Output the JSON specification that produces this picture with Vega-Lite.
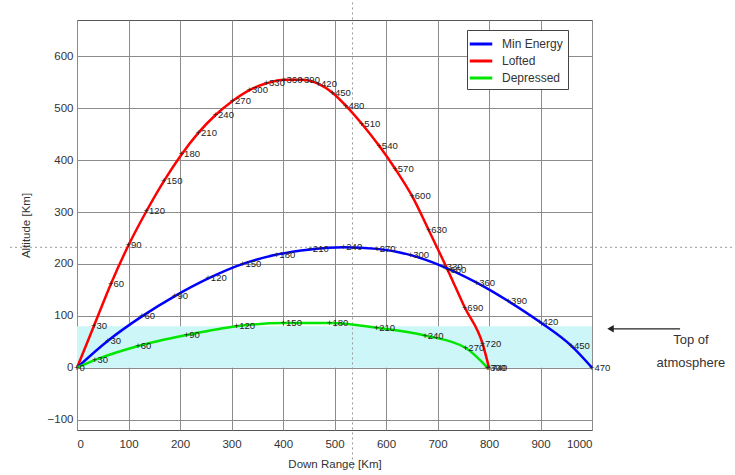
{
  "$schema": "https://vega.github.io/schema/vega-lite/v6.json",
  "width": 515,
  "height": 410,
  "autosize": {"type": "none"},
  "padding": {"left": 77, "top": 20, "right": 143, "bottom": 45},
  "background": "white",
  "config": {
    "view": {"stroke": "#555", "strokeWidth": 1},
    "font": "Liberation Sans",
    "axis": {
      "domain": false,
      "ticks": false,
      "grid": true,
      "gridColor": "#8c8c8c",
      "gridWidth": 1,
      "gridOpacity": 1,
      "labelFontSize": 11.5,
      "labelColor": "#333",
      "labelFont": "Liberation Sans",
      "titleFont": "Liberation Sans",
      "titleFontSize": 11.5,
      "titleFontWeight": "normal",
      "titleColor": "#333"
    }
  },
  "datasets": {
    "traj": [
      {"s": "Lofted", "t": 0, "x": 0, "y": 0, "lab": ""},
      {"s": "Lofted", "t": 30, "x": 33, "y": 81, "lab": "+30"},
      {"s": "Lofted", "t": 60, "x": 66, "y": 162, "lab": "+60"},
      {"s": "Lofted", "t": 90, "x": 100, "y": 236, "lab": "+90"},
      {"s": "Lofted", "t": 120, "x": 135, "y": 302, "lab": "+120"},
      {"s": "Lofted", "t": 150, "x": 169, "y": 360, "lab": "+150"},
      {"s": "Lofted", "t": 180, "x": 203, "y": 411, "lab": "+180"},
      {"s": "Lofted", "t": 210, "x": 236, "y": 453, "lab": "+210"},
      {"s": "Lofted", "t": 240, "x": 269, "y": 487, "lab": "+240"},
      {"s": "Lofted", "t": 270, "x": 302, "y": 514, "lab": "+270"},
      {"s": "Lofted", "t": 300, "x": 335, "y": 535, "lab": "+300"},
      {"s": "Lofted", "t": 330, "x": 368, "y": 548, "lab": "+330"},
      {"s": "Lofted", "t": 360, "x": 402, "y": 555, "lab": "+360"},
      {"s": "Lofted", "t": 390, "x": 436, "y": 555, "lab": "+390"},
      {"s": "Lofted", "t": 420, "x": 469, "y": 547, "lab": "+420"},
      {"s": "Lofted", "t": 450, "x": 496, "y": 530, "lab": "+450"},
      {"s": "Lofted", "t": 480, "x": 522, "y": 505, "lab": "+480"},
      {"s": "Lofted", "t": 510, "x": 553, "y": 470, "lab": "+510"},
      {"s": "Lofted", "t": 540, "x": 587, "y": 427, "lab": "+540"},
      {"s": "Lofted", "t": 570, "x": 618, "y": 383, "lab": "+570"},
      {"s": "Lofted", "t": 600, "x": 651, "y": 330, "lab": "+600"},
      {"s": "Lofted", "t": 630, "x": 683, "y": 265, "lab": "+630"},
      {"s": "Lofted", "t": 660, "x": 720, "y": 188, "lab": "+660"},
      {"s": "Lofted", "t": 690, "x": 753, "y": 116, "lab": "+690"},
      {"s": "Lofted", "t": 720, "x": 788, "y": 45, "lab": "+720"},
      {"s": "Lofted", "t": 740, "x": 800, "y": 0, "lab": "+740"},
      {"s": "Min Energy", "t": 0, "x": 0, "y": 0, "lab": ""},
      {"s": "Min Energy", "t": 30, "x": 60, "y": 52, "lab": "+30"},
      {"s": "Min Energy", "t": 60, "x": 126, "y": 99, "lab": "+60"},
      {"s": "Min Energy", "t": 90, "x": 190, "y": 138, "lab": "+90"},
      {"s": "Min Energy", "t": 120, "x": 255, "y": 172, "lab": "+120"},
      {"s": "Min Energy", "t": 150, "x": 322, "y": 200, "lab": "+150"},
      {"s": "Min Energy", "t": 180, "x": 388, "y": 218, "lab": "+180"},
      {"s": "Min Energy", "t": 210, "x": 453, "y": 228, "lab": "+210"},
      {"s": "Min Energy", "t": 240, "x": 518, "y": 232, "lab": "+240"},
      {"s": "Min Energy", "t": 270, "x": 583, "y": 229, "lab": "+270"},
      {"s": "Min Energy", "t": 300, "x": 648, "y": 217, "lab": "+300"},
      {"s": "Min Energy", "t": 330, "x": 713, "y": 194, "lab": "+330"},
      {"s": "Min Energy", "t": 360, "x": 776, "y": 164, "lab": "+360"},
      {"s": "Min Energy", "t": 390, "x": 838, "y": 128, "lab": "+390"},
      {"s": "Min Energy", "t": 420, "x": 899, "y": 88, "lab": "+420"},
      {"s": "Min Energy", "t": 450, "x": 960, "y": 42, "lab": "+450"},
      {"s": "Min Energy", "t": 470, "x": 1000, "y": 0, "lab": "+470"},
      {"s": "Depressed", "t": 0, "x": 0, "y": 0, "lab": "+0"},
      {"s": "Depressed", "t": 30, "x": 35, "y": 15, "lab": "+30"},
      {"s": "Depressed", "t": 60, "x": 119, "y": 42, "lab": "+60"},
      {"s": "Depressed", "t": 90, "x": 213, "y": 63, "lab": "+90"},
      {"s": "Depressed", "t": 120, "x": 310, "y": 80, "lab": "+120"},
      {"s": "Depressed", "t": 150, "x": 401, "y": 86, "lab": "+150"},
      {"s": "Depressed", "t": 180, "x": 491, "y": 86, "lab": "+180"},
      {"s": "Depressed", "t": 210, "x": 582, "y": 77, "lab": "+210"},
      {"s": "Depressed", "t": 240, "x": 676, "y": 62, "lab": "+240"},
      {"s": "Depressed", "t": 270, "x": 755, "y": 38, "lab": "+270"},
      {"s": "Depressed", "t": 300, "x": 797, "y": 0, "lab": "+300"}
    ]
  },
  "layer": [
    {
      "data": {"values": [{"x": 0, "x2": 1000, "y": 0, "y2": 80}]},
      "mark": {"type": "rect", "color": "#cdf6f8"},
      "encoding": {
        "x": {"field": "x", "type": "quantitative",
              "scale": {"domain": [0, 1000], "nice": false, "zero": false},
              "axis": {"values": [0, 100, 200, 300, 400, 500, 600, 700, 800, 900, 1000], "format": "d", "title": "Down Range [Km]", "labelPadding": 8, "titlePadding": 9}},
        "x2": {"field": "x2"},
        "y": {"field": "y", "type": "quantitative",
              "scale": {"domain": [-120, 670], "nice": false, "zero": false},
              "axis": {"values": [-100, 0, 100, 200, 300, 400, 500, 600], "format": "d", "title": "Altitude [Km]", "labelPadding": 4, "titlePadding": 16}},
        "y2": {"field": "y2"}
      }
    },
    {
      "data": {"values": [{"x": 535, "y": -196, "y2": 708}]},
      "mark": {"type": "rule", "color": "#999", "strokeDash": [2, 3], "strokeWidth": 1},
      "encoding": {
        "x": {"field": "x", "type": "quantitative"},
        "y": {"field": "y", "type": "quantitative"},
        "y2": {"field": "y2"}
      }
    },
    {
      "data": {"values": [{"x": -130, "x2": 1280, "y": 232}]},
      "mark": {"type": "rule", "color": "#999", "strokeDash": [2, 3], "strokeWidth": 1},
      "encoding": {
        "x": {"field": "x", "type": "quantitative"},
        "x2": {"field": "x2"},
        "y": {"field": "y", "type": "quantitative"}
      }
    },
    {
      "data": {"name": "traj"},
      "mark": {"type": "line", "strokeWidth": 2.5, "interpolate": "monotone"},
      "encoding": {
        "x": {"field": "x", "type": "quantitative"},
        "y": {"field": "y", "type": "quantitative"},
        "order": {"field": "t", "type": "quantitative"},
        "color": {
          "field": "s", "type": "nominal",
          "scale": {"domain": ["Min Energy", "Lofted", "Depressed"], "range": ["#0000ff", "#ff0000", "#00e600"]},
          "legend": {
            "orient": "none", "legendX": 390, "legendY": 10, "title": null,
            "fillColor": "white", "strokeColor": "#444", "padding": 5,
            "symbolType": "M-1.5,0H1.5", "symbolStrokeWidth": 3, "symbolSize": 225,
            "labelFontSize": 12, "labelColor": "#333", "labelFont": "Liberation Sans",
            "rowPadding": 2, "labelOffset": 12
          }
        }
      }
    },
    {
      "data": {"name": "traj"},
      "transform": [{"filter": "datum.lab != ''"}],
      "mark": {"type": "text", "fontSize": 9.5, "align": "left", "baseline": "middle", "dx": -3, "color": "#222", "font": "Liberation Sans"},
      "encoding": {
        "x": {"field": "x", "type": "quantitative"},
        "y": {"field": "y", "type": "quantitative"},
        "text": {"field": "lab"}
      }
    },
    {
      "data": {"values": [{"x": 1036, "x2": 1171, "y": 75}]},
      "mark": {"type": "rule", "color": "#222", "strokeWidth": 1.2},
      "encoding": {
        "x": {"field": "x", "type": "quantitative"},
        "x2": {"field": "x2"},
        "y": {"field": "y", "type": "quantitative"}
      }
    },
    {
      "data": {"values": [{"x": 1036, "y": 75}]},
      "mark": {"type": "point", "shape": "triangle-left", "filled": true, "color": "#222", "size": 55, "opacity": 1},
      "encoding": {
        "x": {"field": "x", "type": "quantitative"},
        "y": {"field": "y", "type": "quantitative"}
      }
    },
    {
      "data": {"values": [{"x": 1192, "y": 54, "txt": "Top of"}, {"x": 1192, "y": 10, "txt": "atmosphere"}]},
      "mark": {"type": "text", "fontSize": 13, "align": "center", "baseline": "middle", "color": "#333", "font": "Liberation Sans"},
      "encoding": {
        "x": {"field": "x", "type": "quantitative"},
        "y": {"field": "y", "type": "quantitative"},
        "text": {"field": "txt"}
      }
    }
  ]
}
